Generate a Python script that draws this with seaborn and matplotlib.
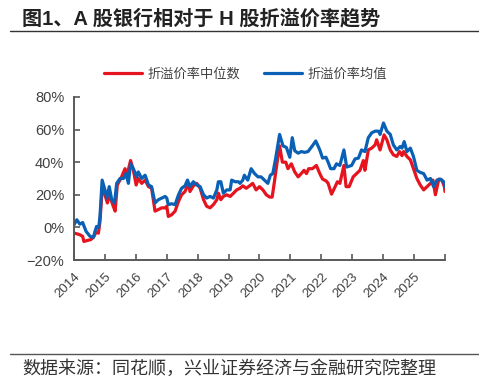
"""
A 股银行相对于 H 股折溢价率趋势
"""
import numpy as np
import pandas as pd
import matplotlib
matplotlib.use('Agg')
import matplotlib.pyplot as plt
import seaborn as sns

sns.set_theme(style='ticks')
plt.rcParams['font.family'] = ['Liberation Sans', 'Noto Sans CJK SC', 'DejaVu Sans']
plt.rcParams['axes.unicode_minus'] = True

# 折溢价率中位数（%），横轴为年份（小数）
median_x = [2014.00, 2014.11, 2014.19, 2014.28, 2014.32, 2014.43, 2014.54, 2014.63, 2014.71, 2014.79,
            2014.84, 2014.91, 2015.00, 2015.08, 2015.14, 2015.27, 2015.33, 2015.40, 2015.54, 2015.65,
            2015.70, 2015.83, 2015.92, 2016.01, 2016.08, 2016.19, 2016.30, 2016.41, 2016.51, 2016.62,
            2016.73, 2016.84, 2016.95, 2017.00, 2017.05, 2017.16, 2017.27, 2017.38, 2017.48, 2017.59,
            2017.70, 2017.75, 2017.86, 2017.97, 2018.08, 2018.19, 2018.29, 2018.40, 2018.51, 2018.62,
            2018.67, 2018.75, 2018.83, 2018.94, 2019.05, 2019.16, 2019.26, 2019.37, 2019.46, 2019.57,
            2019.68, 2019.78, 2019.89, 2020.00, 2020.11, 2020.22, 2020.33, 2020.41, 2020.49, 2020.57,
            2020.65, 2020.74, 2020.85, 2020.92, 2021.03, 2021.14, 2021.25, 2021.35, 2021.44, 2021.52,
            2021.59, 2021.71, 2021.84, 2021.95, 2022.04, 2022.15, 2022.22, 2022.33, 2022.44, 2022.52,
            2022.60, 2022.73, 2022.80, 2022.90, 2023.03, 2023.14, 2023.25, 2023.36, 2023.41, 2023.52,
            2023.63, 2023.74, 2023.79, 2023.90, 2024.03, 2024.12, 2024.23, 2024.33, 2024.44, 2024.53,
            2024.61, 2024.66, 2024.77, 2024.88, 2024.98, 2025.09, 2025.20, 2025.31, 2025.42, 2025.53,
            2025.61, 2025.69, 2025.80, 2025.90, 2025.98, 2026.00]
median_v = [-3.5, -4.0, -4.5, -5.5, -8.6, -8.0, -7.5, -6.0, -3.0, -3.5,
            3.7, 23.0, 20.0, 15.0, 20.0, 13.0, 10.0, 26.0, 31.0, 36.0,
            31.0, 41.0, 35.0, 26.0, 30.0, 27.0, 29.0, 25.0, 24.0, 10.0,
            11.0, 12.0, 12.0, 13.0, 6.7, 7.8, 10.0, 16.0, 20.0, 22.0,
            27.0, 22.0, 25.5, 27.0, 24.0, 17.0, 13.0, 12.0, 14.0, 17.0,
            21.0, 17.0, 19.0, 20.0, 19.0, 21.0, 23.0, 24.0, 25.5, 24.0,
            25.5, 27.0, 23.0, 25.0, 23.0, 20.0, 18.6, 18.6, 29.0, 40.0,
            50.0, 40.0, 40.0, 36.0, 39.0, 34.0, 31.0, 33.0, 35.0, 33.0,
            36.0, 36.0, 38.0, 33.0, 29.6, 28.6, 27.0, 20.4, 24.7, 28.0,
            27.0, 38.0, 25.0, 25.0, 31.0, 33.0, 35.0, 41.0, 35.0, 47.5,
            48.6, 50.6, 53.7, 47.5, 56.7, 53.7, 47.5, 44.5, 43.5, 46.5,
            44.0, 46.5, 43.5, 41.4, 36.0, 30.0, 26.0, 23.0, 25.0, 27.0,
            29.0, 20.0, 29.6, 29.0, 25.0, 22.0]

# 折溢价率均值（%）
mean_x = [2014.00, 2014.09, 2014.19, 2014.28, 2014.39, 2014.52, 2014.63, 2014.68, 2014.73, 2014.80,
          2014.84, 2014.91, 2015.00, 2015.06, 2015.14, 2015.22, 2015.31, 2015.38, 2015.49, 2015.60,
          2015.68, 2015.76, 2015.83, 2015.92, 2016.03, 2016.08, 2016.19, 2016.30, 2016.41, 2016.51,
          2016.62, 2016.73, 2016.84, 2016.95, 2017.00, 2017.05, 2017.16, 2017.27, 2017.38, 2017.48,
          2017.59, 2017.67, 2017.75, 2017.86, 2017.97, 2018.08, 2018.19, 2018.29, 2018.40, 2018.51,
          2018.62, 2018.67, 2018.75, 2018.83, 2018.94, 2019.05, 2019.10, 2019.21, 2019.32, 2019.37,
          2019.46, 2019.51, 2019.62, 2019.73, 2019.84, 2019.95, 2020.05, 2020.16, 2020.27, 2020.35,
          2020.43, 2020.52, 2020.65, 2020.76, 2020.87, 2020.98, 2021.06, 2021.14, 2021.25, 2021.35,
          2021.46, 2021.57, 2021.71, 2021.82, 2021.95, 2022.04, 2022.15, 2022.22, 2022.30, 2022.41,
          2022.49, 2022.60, 2022.73, 2022.82, 2022.98, 2023.09, 2023.20, 2023.30, 2023.41, 2023.52,
          2023.63, 2023.74, 2023.85, 2023.90, 2024.01, 2024.12, 2024.23, 2024.33, 2024.44, 2024.55,
          2024.61, 2024.68, 2024.77, 2024.88, 2024.98, 2025.09, 2025.20, 2025.31, 2025.42, 2025.53,
          2025.63, 2025.74, 2025.85, 2025.96, 2026.00]
mean_v = [1.6, 4.7, 2.0, 3.0, -2.4, -5.5, -6.0, -2.4, 0.6, 0.0,
          6.7, 29.0, 23.0, 18.0, 25.0, 17.0, 15.0, 27.0, 30.0, 30.0,
          33.0, 27.0, 39.0, 36.0, 31.0, 34.0, 30.0, 32.0, 26.0, 25.0,
          15.0, 17.0, 18.0, 19.0, 18.0, 14.0, 14.5, 14.0, 20.0, 24.0,
          25.5, 29.0, 25.0, 28.0, 26.0, 25.0, 20.0, 18.0, 19.0, 18.0,
          23.0, 28.0, 28.0, 21.0, 23.0, 23.0, 29.0, 28.0, 28.0, 27.0,
          29.0, 32.0, 29.0, 36.0, 33.0, 31.0, 31.0, 29.0, 27.0, 32.0,
          33.0, 42.0, 57.0, 50.0, 49.0, 43.0, 55.0, 47.0, 45.5, 46.5,
          46.0, 46.5, 50.0, 53.0, 47.5, 42.5, 43.0, 40.0, 36.0, 36.0,
          39.0, 38.0, 47.5, 37.0, 38.0, 42.0, 42.5, 47.5, 46.5, 55.0,
          58.0, 59.0, 59.0, 57.0, 64.0, 59.0, 57.0, 50.6, 47.5, 49.6,
          48.6, 52.6, 46.5, 48.6, 43.5, 35.0, 33.7, 33.0, 29.0, 30.0,
          25.0, 29.0, 29.6, 28.0, 25.0]

years = list(range(2014, 2026))

RED = '#E5141E'
BLUE = '#0A60B5'
GREY = '#404040'

fig = plt.figure(figsize=(4.79, 3.83), dpi=100)
ax = fig.add_axes([0.1545, 0.321, 0.7745, 0.426])

df_med = pd.DataFrame({'year': median_x, 'value': median_v})
df_mean = pd.DataFrame({'year': mean_x, 'value': mean_v})
sns.lineplot(data=df_med, x='year', y='value', color=RED, lw=2.3,
             label='折溢价率中位数', ax=ax)
sns.lineplot(data=df_mean, x='year', y='value', color=BLUE, lw=2.3,
             label='折溢价率均值', ax=ax)

ax.set_xlim(2014, 2026)
ax.set_ylim(-20, 80)
ax.set_xticks(years + [2026])
ax.set_xticklabels([str(y) for y in years] + [''], rotation=45, ha='right',
                   rotation_mode='anchor', fontsize=9.5, color=GREY)
ax.set_yticks([-20, 0, 20, 40, 60, 80])
ax.set_yticklabels(['\u221220%', '0%', '20%', '40%', '60%', '80%'], fontsize=10.5, color=GREY)
ax.set_xlabel('')
ax.set_ylabel('')
sns.despine(ax=ax)
for side in ['left', 'bottom']:
    ax.spines[side].set_color('#595959')
    ax.spines[side].set_linewidth(1.4)
ax.tick_params(axis='both', direction='in', length=4, width=1.2, color='#595959')
ax.tick_params(axis='y', pad=7)
ax.tick_params(axis='x', pad=8)
ax.grid(False)

ax.legend(loc='center', bbox_to_anchor=(0.513, 0.805), bbox_transform=fig.transFigure,
          ncol=2, frameon=False, fontsize=9.5, handlelength=2.9, columnspacing=1.8,
          handletextpad=0.4)
for txt in ax.get_legend().get_texts():
    txt.set_color(GREY)

# 标题与来源
fig.text(0.046, 0.952, '图1、A 股银行相对于 H 股折溢价率趋势', fontsize=14.5,
         fontweight='bold', ha='left', va='center', color='#222222')
fig.add_artist(plt.Line2D([0.021, 1.0], [0.918, 0.918], color='#333333', lw=1.0))
fig.add_artist(plt.Line2D([0.021, 1.0], [0.075, 0.075], color='#555555', lw=1.0))
fig.text(0.046, 0.038, '数据来源：同花顺，兴业证券经济与金融研究院整理', fontsize=13,
         ha='left', va='center', color='#333333')

fig.savefig('out.png', dpi=100)
